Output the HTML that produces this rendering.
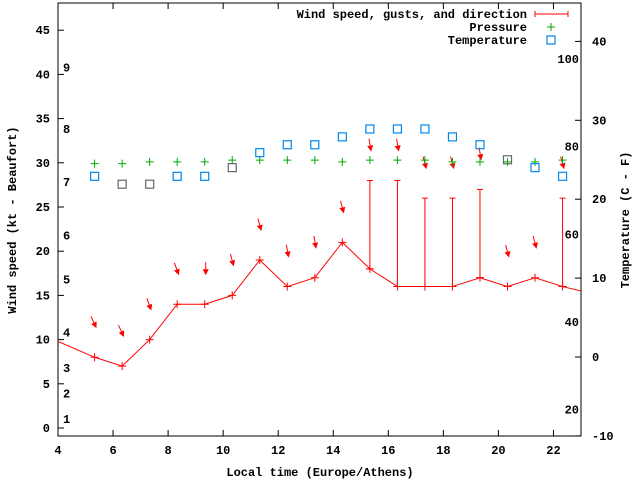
<!DOCTYPE html>
<html><head><meta charset="utf-8"><style>
body{margin:0;background:#fff}
svg text{font-family:"Liberation Mono","DejaVu Sans Mono",monospace;font-weight:bold;font-size:12px;fill:#000}
</style></head><body>
<svg id="c" width="640" height="480" xmlns="http://www.w3.org/2000/svg"></svg>
<script>
const times=[5.33,6.33,7.33,8.33,9.33,10.33,11.33,12.33,13.33,14.33,15.33,16.33,17.33,18.33,19.33,20.33,21.33,22.33];
const speed=[8,7,10,14,14,15,19,16,17,21,18,16,16,16,17,16,17,16];
const gust=[null,null,null,null,null,null,null,null,null,null,28,28,26,26,27,null,null,26];
const dirDeg=[335,335,340,340,0,345,345,350,350,345,350,350,345,345,350,345,345,345];
const pressure=[29.9,29.9,30.1,30.1,30.1,30.3,30.3,30.3,30.3,30.1,30.3,30.3,30.3,30.1,30.1,30.1,30.1,30.3];
const temp=[22.9,21.9,21.9,22.9,22.9,24,25.9,26.9,26.9,27.9,28.9,28.9,28.9,27.9,26.9,25,24,22.9];
const tempGrey=[false,true,true,false,false,true,false,false,false,false,false,false,false,false,false,true,false,false];
const lineStart=[3.33,10.7], lineEnd=[23.33,15.25];
const xTicks=[4,6,8,10,12,14,16,18,20,22];
const yTicks=[0,5,10,15,20,25,30,35,40,45];
const y2Ticks=[-10,0,10,20,30,40];
const fTicks=[20,40,60,80,100];
const bftLabels=["1","2","3","4","5","6","7","8","9"];
const bftVals=[1,3.9,6.8,10.8,16.8,21.8,27.8,33.8,40.8];

const L=58,R=581,T=3,B=436;
const X=t=>L+(t-4)*(R-L)/19;
const Y=v=>428-v*8.84;
const Y2=c=>357-c*7.89;
const svg=document.getElementById('c');
const NS='http://www.w3.org/2000/svg';
function el(tag,a,txt){const e=document.createElementNS(NS,tag);for(const k in a)e.setAttribute(k,a[k]);if(txt!==undefined)e.textContent=txt;svg.appendChild(e);return e;}

const defs=el('defs',{});const cp=document.createElementNS(NS,'clipPath');cp.setAttribute('id','pc');
const cr=document.createElementNS(NS,'rect');cr.setAttribute('x',L);cr.setAttribute('y',T);cr.setAttribute('width',R-L);cr.setAttribute('height',B-T);cp.appendChild(cr);defs.appendChild(cp);

let e=el('rect',{x:L,y:T,width:R-L,height:B-T,fill:'none',stroke:'#000','stroke-width':1});


xTicks.forEach(t=>{const x=X(t);
 el('line',{x1:x,y1:B,x2:x,y2:B-6,stroke:'#000'});el('line',{x1:x,y1:T,x2:x,y2:T+6,stroke:'#000'});
 const tx=el('text',{x:x,y:B+18,'text-anchor':'middle'},t);
 });
yTicks.forEach(v=>{const y=Y(v);el('line',{x1:L,y1:y,x2:L+6,y2:y,stroke:'#000'});
 const tx=el('text',{x:L-8,y:y+4,'text-anchor':'end'},v);
 });
y2Ticks.forEach(v=>{const y=Y2(v);el('line',{x1:R,y1:y,x2:R-6,y2:y,stroke:'#000'});
 const tx=el('text',{x:R+11,y:y+4,'text-anchor':'start'},v);
 });
fTicks.forEach(f=>{const y=Y2((f-32)*5/9);
 const tx=el('text',{x:R-2,y:y+4,'text-anchor':'end'},f);
 });
bftLabels.forEach((b,i)=>{const tx=el('text',{x:L+5,y:Y(bftVals[i])+4},b);
 });

e=el('text',{x:320,y:476,'text-anchor':'middle'},'Local time (Europe/Athens)');

e=el('text',{x:0,y:0,'text-anchor':'middle',transform:'translate(16,220) rotate(-90)'},'Wind speed (kt - Beaufort)');

e=el('text',{x:0,y:0,'text-anchor':'middle',transform:'translate(629,220) rotate(-90)'},'Temperature (C - F)');


const g=el('g',{'clip-path':'url(#pc)'});
function gel(tag,a){const n=document.createElementNS(NS,tag);for(const k in a)n.setAttribute(k,a[k]);g.appendChild(n);return n;}
function plus(x,y,c){gel('path',{d:`M${x-4} ${y}H${x+4}M${x} ${y-4}V${y+4}`,stroke:c,'stroke-width':1,fill:'none'});}

let pts=[[X(lineStart[0]),Y(lineStart[1])]].concat(times.map((t,i)=>[X(t),Y(speed[i])])).concat([[X(lineEnd[0]),Y(lineEnd[1])]]);
e=gel('polyline',{points:pts.map(p=>p.join(',')).join(' '),fill:'none',stroke:'#f00','stroke-width':1});

times.forEach((t,i)=>{plus(X(t),Y(speed[i]),'#f00');
 if(gust[i]!==null){const x=X(t);
  const gl=gel('path',{d:`M${x} ${Y(speed[i])}V${Y(gust[i])}M${x-3} ${Y(gust[i])}H${x+3}M${x-3} ${Y(speed[i])}H${x+3}`,stroke:'#f00',fill:'none'});
  }
 const top=gust[i]!==null?gust[i]:speed[i];
 const tx=X(t)+1,ty=Y(top+3.5);
 const a=(dirDeg[i])*Math.PI/180;
 const dx=-Math.sin(a),dy=Math.cos(a);
 const sx=tx-dx*11,sy=ty-dy*11;
 const ar=gel('g',{});
 const ln=document.createElementNS(NS,'line');ln.setAttribute('x1',sx);ln.setAttribute('y1',sy);ln.setAttribute('x2',tx);ln.setAttribute('y2',ty);ln.setAttribute('stroke','#f00');ar.appendChild(ln);
 const px=-dy,py=dx;
 const hd=document.createElementNS(NS,'polygon');
 hd.setAttribute('points',`${tx+dx*2},${ty+dy*2} ${tx-dx*4+px*3},${ty-dy*4+py*3} ${tx-dx*4-px*3},${ty-dy*4-py*3}`);
 hd.setAttribute('fill','#f00');ar.appendChild(hd);
});
times.forEach((t,i)=>{plus(X(t),Y(pressure[i]),'#0a0');});
times.forEach((t,i)=>{const r=gel('rect',{x:X(t)-4,y:Y2(temp[i])-4,width:8,height:8,fill:'none',stroke:tempGrey[i]?'#666':'#08e','stroke-width':1.2});
 });

e=el('text',{x:527,y:18,'text-anchor':'end'},'Wind speed, gusts, and direction');
el('path',{d:'M535 14H568M535 11V17M568 11V17',stroke:'#f00',fill:'none'});
e=el('text',{x:527,y:31,'text-anchor':'end'},'Pressure');
el('path',{d:'M547 27H555M551 23V31',stroke:'#0a0',fill:'none'});
e=el('text',{x:527,y:44,'text-anchor':'end'},'Temperature');
el('rect',{x:547,y:36,width:8,height:8,fill:'none',stroke:'#08e','stroke-width':1.2});
</script>
</body></html>
